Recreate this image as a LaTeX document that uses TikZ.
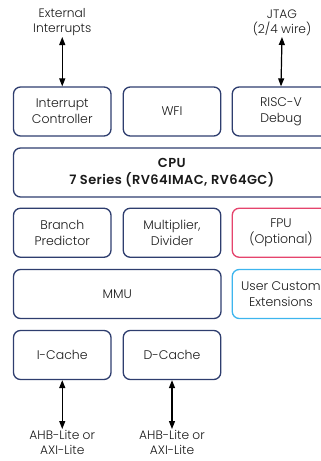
\documentclass[tikz,border=0pt]{standalone}
\usepackage{fontspec}
\setmainfont{Poppins}[UprightFont={* Light},BoldFont={* SemiBold}]
\usetikzlibrary{arrows.meta}
\definecolor{navy}{HTML}{2E3D6E}
\definecolor{fpured}{HTML}{E5446D}
\definecolor{ucblue}{HTML}{3DB5EE}
\definecolor{txt}{HTML}{1A1A1A}
\begin{document}
\begin{tikzpicture}[x=1pt,y=-1pt,
  blk/.style={draw=navy,line width=1.3pt,rounded corners=7pt,minimum width=97.5pt,minimum height=49pt,align=center,inner sep=0pt,text=txt,font=\fontsize{12.5}{16}\selectfont},
  lbl/.style={align=center,inner sep=0pt,text=txt,font=\fontsize{12.25}{15}\selectfont},
  conn/.style={{Triangle[length=8pt,width=6pt]}-{Triangle[length=8pt,width=6pt]},line width=1.2pt,black}]
\useasboundingbox (0,0) rectangle (321,461);
\clip (0,0) rectangle (321,461);
\node[blk] (ic) at (62.25,111.5) {Interrupt\\Controller};
\node[blk] (wfi) at (172,111.5) {WFI};
\node[blk] (dbg) at (281,111.5) {RISC-V\\Debug};
\node[blk,minimum width=316.5pt,font=\fontsize{13}{16.5}\selectfont\bfseries\addfontfeatures{LetterSpace=3}] (cpu) at (171.75,172.5) {CPU\\7 Series (RV64IMAC, RV64GC)};
\node[blk] (bp) at (62.25,232.75) {Branch\\Predictor};
\node[blk] (md) at (172,232.75) {Multiplier,\\Divider};
\node[blk,draw=fpured] (fpu) at (281,232.75) {FPU\\(Optional)};
\node[blk,minimum width=207.5pt] (mmu) at (117.25,294) {MMU};
\node[blk,draw=ucblue] (uce) at (281,294) {User Custom\\Extensions};
\node[blk] (icache) at (62.25,355) {I-Cache};
\node[blk] (dcache) at (172,355) {D-Cache};
\node[lbl,anchor=south] (ext) at (62.25,36) {External\\Interrupts};
\node[lbl,anchor=south] (jtag) at (282,36) {JTAG\\(2/4 wire)};
\node[lbl,anchor=north] (ahb1) at (62.25,430.5) {AHB-Lite or\\AXI-Lite};
\node[lbl,anchor=north] (ahb2) at (172,430.5) {AHB-Lite or\\AXI-Lite};
\draw[conn] (ext.south) ++(0,1) -- (ic.north);
\draw[conn] (jtag.south) ++(0,1) -- (dbg.north);
\draw[conn] (icache.south) -- ([yshift=1.5pt]ahb1.north);
\draw[conn] (dcache.south) -- ([yshift=1.5pt]ahb2.north);
\end{tikzpicture}
\end{document}
